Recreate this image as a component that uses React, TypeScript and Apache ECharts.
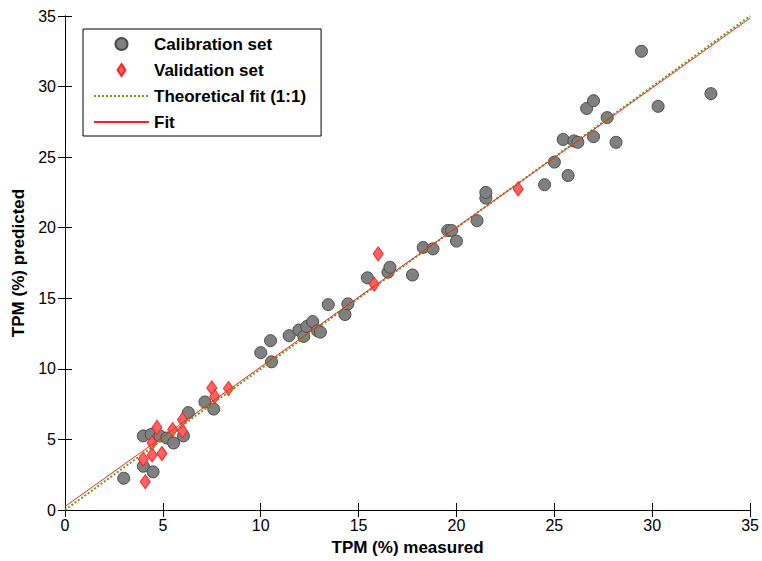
import React, { useEffect, useRef } from "react";
import * as echarts from "echarts";

const calX = [3.0, 4.0, 4.5, 4.0, 4.4, 4.85, 5.2, 5.55, 6.05, 6.3, 7.15, 7.6, 10.0, 10.5, 10.55, 11.45, 11.95, 12.2, 12.35, 12.65, 12.9, 13.05, 13.45, 14.3, 14.45, 15.45, 16.5, 16.6, 17.75, 18.3, 18.8, 19.55, 19.75, 20.0, 21.05, 21.5, 21.5, 24.5, 25.0, 25.45, 25.7, 26.0, 26.2, 26.65, 27.0, 27.0, 27.7, 28.15, 29.45, 30.3, 33.0];
const calY = [2.25, 3.1, 2.7, 5.25, 5.35, 5.25, 5.1, 4.75, 5.25, 6.9, 7.65, 7.15, 11.15, 12.0, 10.5, 12.35, 12.75, 12.3, 13.0, 13.35, 12.7, 12.6, 14.55, 13.85, 14.6, 16.45, 16.85, 17.2, 16.65, 18.6, 18.5, 19.8, 19.8, 19.05, 20.5, 22.1, 22.5, 23.05, 24.65, 26.25, 23.7, 26.15, 26.05, 28.45, 26.45, 29.0, 27.8, 26.05, 32.5, 28.6, 29.5];

const valX = [4.1, 4.0, 4.45, 4.95, 4.45, 4.7, 5.5, 6.0, 6.0, 7.5, 7.65, 8.35, 15.8, 16.0, 23.15];
const valY = [2.0, 3.6, 3.9, 4.0, 4.75, 5.85, 5.7, 5.6, 6.4, 8.65, 8.05, 8.6, 16.0, 18.15, 22.75];

const theoX = [0, 35];
const theoY = [0, 35];
const fitX = [0, 35];
const fitY = [0.25, 34.85];

const seriesNames = ["Calibration set", "Validation set", "Theoretical fit (1:1)", "Fit"];
const xTitle = "TPM (%) measured";
const yTitle = "TPM (%) predicted";
const axisMin = 0;
const axisMax = 35;
const axisStep = 5;

const zip = (xs: number[], ys: number[]) => xs.map((x, i) => [x, ys[i]]);

export default function App() {
  const ref = useRef<HTMLDivElement>(null);
  useEffect(() => {
    if (!ref.current) return;
    const chart = echarts.init(ref.current, undefined, { renderer: "svg" });
    const font = "Arial, 'Liberation Sans', sans-serif";
    const baseAxis = {
      type: "value" as const,
      min: axisMin,
      max: axisMax,
      interval: axisStep,
      splitLine: { show: false },
      axisLine: { show: true, lineStyle: { color: "#000", width: 1 } },
      axisTick: { show: true, inside: true, length: 7, lineStyle: { color: "#000" } },
    };
    chart.setOption({
      animation: false,
      backgroundColor: "#fff",
      textStyle: { fontFamily: font },
      grid: { left: 65, right: 11, top: 16, bottom: 48 },
      legend: {
        orient: "vertical",
        left: 83,
        top: 29,
        padding: [5, 15, 4, 10],
        backgroundColor: "#fff",
        borderColor: "#000",
        borderWidth: 1,
        borderRadius: 0,
        itemWidth: 55,
        itemHeight: 12,
        itemGap: 6,
        selectedMode: false,
        textStyle: { fontFamily: font, fontSize: 17, fontWeight: "bold", color: "#000", lineHeight: 20 },
        data: [
          { name: seriesNames[0], icon: "circle" },
          { name: seriesNames[1], icon: "path://M0,-10L6.5,0L0,10L-6.5,0Z" },
          { name: seriesNames[2], itemStyle: { opacity: 0 } },
          { name: seriesNames[3], itemStyle: { opacity: 0 } },
        ],
      },
      xAxis: [
        {
          ...baseAxis,
          position: "bottom",
          name: xTitle,
          nameLocation: "middle",
          nameGap: 29,
          nameTextStyle: { fontFamily: font, fontSize: 17, fontWeight: "bold", color: "#000" },
          axisLabel: { fontFamily: font, fontSize: 16, color: "#000", margin: 7 },
        },
        {
          ...baseAxis,
          position: "top",
          axisLabel: { show: false },
        },
      ],
      yAxis: [
        {
          ...baseAxis,
          position: "left",
          name: yTitle,
          nameLocation: "middle",
          nameGap: 33,
          nameTextStyle: { fontFamily: font, fontSize: 17, fontWeight: "bold", color: "#000" },
          axisLabel: { fontFamily: font, fontSize: 16, color: "#000", margin: 9 },
        },
        {
          ...baseAxis,
          position: "right",
          axisLabel: { show: false },
        },
      ],
      series: [
        {
          name: seriesNames[0],
          type: "scatter",
          xAxisIndex: 0,
          yAxisIndex: 0,
          symbol: "circle",
          symbolSize: 12,
          itemStyle: { color: "#808080", borderColor: "#4a4a4a", borderWidth: 1, opacity: 1 },
          data: zip(calX, calY),
          z: 2,
        },
        {
          name: seriesNames[1],
          type: "scatter",
          xAxisIndex: 0,
          yAxisIndex: 0,
          symbol: "diamond",
          symbolSize: [10, 14],
          itemStyle: { color: "#ff6464", borderColor: "#ff2020", borderWidth: 1, opacity: 1 },
          data: zip(valX, valY),
          z: 3,
        },
        {
          name: seriesNames[2],
          type: "line",
          xAxisIndex: 0,
          yAxisIndex: 0,
          symbol: "none",
          lineStyle: { color: "#5fa01e", width: 2, type: [2, 2] },
          itemStyle: { color: "#5fa01e" },
          data: zip(theoX, theoY),
          z: 4,
        },
        {
          name: seriesNames[3],
          type: "line",
          xAxisIndex: 0,
          yAxisIndex: 0,
          symbol: "none",
          lineStyle: { color: "#ff2020", width: 1 },
          itemStyle: { color: "#ff2020" },
          data: zip(fitX, fitY),
          z: 5,
        },
      ],
    });
    return () => chart.dispose();
  }, []);
  return <div ref={ref} style={{ position: "fixed", left: 0, top: 0, width: 762, height: 561 }} />;
}
